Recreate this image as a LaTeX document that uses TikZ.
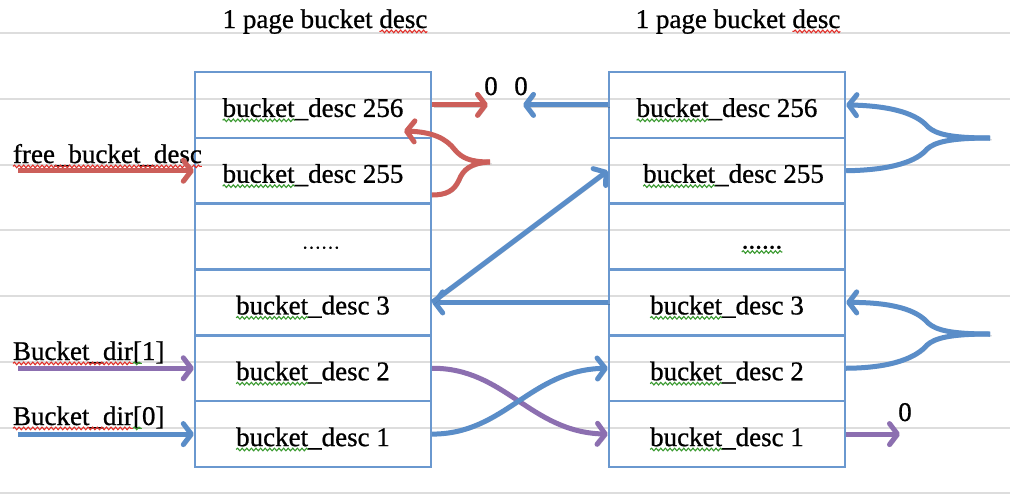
\documentclass[tikz,border=0pt]{standalone}
\usepackage{fontspec}
\setmainfont{Liberation Serif}[FakeBold=0.8]
\usetikzlibrary{arrows.meta,decorations.pathmorphing}
\definecolor{boxblue}{HTML}{6A98CF}
\definecolor{ablue}{HTML}{5A8DC8}
\definecolor{ared}{HTML}{CC5F5A}
\definecolor{apurple}{HTML}{8C6FB0}
\definecolor{gridgray}{HTML}{DDDDDD}
\definecolor{wred}{HTML}{E0302A}
\definecolor{wgreen}{HTML}{3A9A30}
\newcommand\bigf{\fontsize{27}{32}\selectfont}
\newlength\wvA
\newlength\wvB
% measure pieces of node text (globally)
\newcommand\wa[1]{\setbox0\hbox{#1}\global\wvA=\wd0\relax\box0\relax}
\newcommand\wb[1]{\setbox0\hbox{#1}\global\wvB=\wd0\relax\box0\relax}
% wave from base west of node, offset #3, length #4
\newcommand\wave[4]{\draw[wavy,#1] ([xshift=#3,yshift=-3.4pt]#2.base west) -- ++(#4,0pt);}
% wave ending at base east of node, length #3
\newcommand\wavee[3]{\draw[wavy,#1] ([yshift=-3.4pt]#2.base east) -- ++(-#3,0pt);}
\begin{document}
\begin{tikzpicture}[x=1pt,y=-1pt,font=\bigf,
  gridline/.style={draw=gridgray,line width=1.5pt},
  cell/.style={draw=boxblue,line width=2.4pt,minimum width=236pt,minimum height=65.83pt,inner sep=0pt},
  txt/.style={inner sep=0pt,outer sep=0pt,anchor=base},
  txtl/.style={inner sep=0pt,outer sep=0pt,anchor=base west},
  wavy/.style={line width=1.1pt,decorate,decoration={snake,amplitude=1.3pt,segment length=4.6pt}},
  ln/.style={line width=5pt,preaction={draw=black,draw opacity=0.18,transform canvas={xshift=1.8pt,yshift=-1.8pt}}},
  arr/.style={ln,-{Straight Barb[length=8pt,width=21pt,round]}},
  rarr/.style={arr,draw=ared},
  barr/.style={arr,draw=ablue},
  parr/.style={arr,draw=apurple}]
\useasboundingbox (0,0) rectangle (1010,498);
\fill[white] (0,0) rectangle (1010,498);
\foreach \y in {33,99,165,230,296,362,428,493} \draw[gridline] (0,\y) -- (1010,\y);

% titles
\node[txt] (T1) at (325,28) {1 page bucket \wb{desc}};
\wavee{wred}{T1}{\wvB}
\node[txt] (T2) at (738,28) {1 page bucket \wb{desc}};
\wavee{wred}{T2}{\wvB}

% left column
\node[cell] (L6) at (313,104.9) {};
\node[cell] (L5) at (313,170.75) {};
\node[cell] (L4) at (313,236.6) {};
\node[cell] (L3) at (313,302.4) {};
\node[cell] (L2) at (313,368.25) {};
\node[cell] (L1) at (313,434.1) {};
% right column
\node[cell] (R6) at (727,104.9) {};
\node[cell] (R5) at (727,170.75) {};
\node[cell] (R4) at (727,236.6) {};
\node[cell] (R3) at (727,302.4) {};
\node[cell] (R2) at (727,368.25) {};
\node[cell] (R1) at (727,434.1) {};

\node[txt] (L6t) at ([yshift=-12pt]L6.center) {\wb{bucket}\_desc 256}; \wave{wgreen}{L6t}{0pt}{\wvB}
\node[txt] (L5t) at ([yshift=-12pt]L5.center) {\wb{bucket}\_desc 255}; \wave{wgreen}{L5t}{0pt}{\wvB}
\node[txt] (L4t) at ([xshift=8pt,yshift=-12pt]L4.center) {\fontsize{19}{20}\selectfont ……};
\node[txt] (L3t) at ([yshift=-12pt]L3.center) {\wb{bucket}\_desc 3}; \wave{wgreen}{L3t}{0pt}{\wvB}
\node[txt] (L2t) at ([yshift=-12pt]L2.center) {\wb{bucket}\_desc 2}; \wave{wgreen}{L2t}{0pt}{\wvB}
\node[txt] (L1t) at ([yshift=-12pt]L1.center) {\wb{bucket}\_desc 1}; \wave{wgreen}{L1t}{0pt}{\wvB}
\node[txt] (R6t) at ([yshift=-12pt]R6.center) {\wb{bucket}\_desc 256}; \wave{wgreen}{R6t}{0pt}{\wvB}
\node[txt] (R5t) at ([xshift=6.5pt,yshift=-12pt]R5.center) {\wb{bucket}\_desc 255}; \wave{wgreen}{R5t}{0pt}{\wvB}
\node[txt] (R4t) at ([xshift=35pt,yshift=-12pt]R4.center) {\wb{......}}; \wave{wgreen}{R4t}{0pt}{\wvB}
\node[txt] (R3t) at ([yshift=-12pt]R3.center) {\wb{bucket}\_desc 3}; \wave{wgreen}{R3t}{0pt}{\wvB}
\node[txt] (R2t) at ([yshift=-12pt]R2.center) {\wb{bucket}\_desc 2}; \wave{wgreen}{R2t}{0pt}{\wvB}
\node[txt] (R1t) at ([yshift=-12pt]R1.center) {\wb{bucket}\_desc 1}; \wave{wgreen}{R1t}{0pt}{\wvB}

% side labels
\node[txtl] (FB) at (13,163) {\wb{free\_bucket\_desc}}; \wave{wred}{FB}{0pt}{\wvB}
\node[txtl] (BD1) at (13,360) {\wa{Bucket\_dir}\wb{[}1]};
\wave{wred}{BD1}{0pt}{\wvA} \wave{wgreen}{BD1}{\wvA}{\wvB}
\node[txtl] (BD0) at (13,425) {\wa{Bucket\_dir}\wb{[}0]};
\wave{wred}{BD0}{0pt}{\wvA} \wave{wgreen}{BD0}{\wvA}{\wvB}

% zeros
\node[txt] (z1) at (491,95) {0};
\node[txt] (z2) at (521,95) {0};
\node[txt] (z3) at (905,421) {0};

% coordinates for free ends
\coordinate (f0) at (18,170.75);
\coordinate (d1) at (18,368.25);
\coordinate (d0) at (18,434.1);
\coordinate (a1) at (488,104.9);
\coordinate (b1) at (523,104.9);
\coordinate (rtip) at (490,162);
\coordinate (rup) at (404,131);
\coordinate (rlow) at (432,195);
\coordinate (t1) at (990,138);
\coordinate (t2) at (990,334);
\coordinate (p0) at (900,434.1);

% entry arrows
\draw[rarr] (f0) -- (L5.west);
\draw[parr] (d1) -- (L2.west);
\draw[barr] (d0) -- (L1.west);

% top arrows to 0
\draw[rarr] (L6.east) -- (a1);
\draw[barr] (R6.west) -- (b1);

% red brace
\draw[rarr] (rtip) .. controls (470,162) and (462,158) .. (455,150) .. controls (446,138) and (432,132) .. (rup);
\draw[ln,ared] (rtip) .. controls (470,163) and (463,170) .. (459,180) .. controls (454,191) and (446,195) .. (rlow);

% middle arrows
\draw[barr] (R3.west) -- (L3.east);
\draw[barr] (L3.east) -- (R5.west);

% crossing curves
\draw[parr] (L2.east) .. controls (505,368) and (530,432) .. (R1.west);
\draw[barr] (L1.east) .. controls (505,434) and (530,370) .. (R2.west);

% right braces
\draw[barr] (t1) .. controls (950,138) and (936,134) .. (928,127) .. controls (917,114) and (893,106) .. (R6.east);
\draw[ln,ablue] (t1) .. controls (950,138) and (935,142) .. (927,149) .. controls (917,161) and (893,170) .. (R5.east);
\draw[barr] (t2) .. controls (950,334) and (936,330) .. (928,323) .. controls (917,310) and (893,302.4) .. (R3.east);
\draw[ln,ablue] (t2) .. controls (950,334) and (935,338) .. (927,345) .. controls (917,357) and (893,368) .. (R2.east);

% bottom right arrow
\draw[parr] (R1.east) -- (p0);
\end{tikzpicture}
\end{document}
